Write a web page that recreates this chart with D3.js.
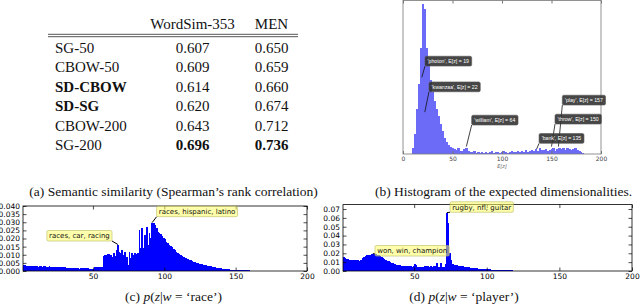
<!DOCTYPE html>
<html>
<head>
<meta charset="utf-8">
<script src="https://cdn.jsdelivr.net/npm/d3@7/dist/d3.min.js"></script>
<style>
  body { margin: 0; background: #fff; }
  svg { display: block; }
</style>
</head>
<body>
<div id="fig"></div>
<script>
// ---- (a) table ----
const methods = ['SG-50', 'CBOW-50', 'SD-CBOW', 'SD-SG', 'CBOW-200', 'SG-200'];
const boldMethods = ['SD-CBOW', 'SD-SG'];
const wordsimScores = [0.607, 0.609, 0.614, 0.620, 0.643, 0.696];
const menScores = [0.650, 0.659, 0.660, 0.674, 0.712, 0.736];
const tableHeaders = ['WordSim-353', 'MEN'];

// ---- (b) histogram of expected dimensionalities (bins of 2, starting at 9) ----
const dimBinStart = 9;
const dimBinWidth = 2;
const dimCounts = [
  60, 200, 450, 700, 1060, 1500, 1450, 1060, 900, 740,
  620, 530, 450, 380, 300, 230, 160, 120, 90, 70,
  60, 50, 40, 60, 30, 30, 50, 60, 30, 20,
  20, 30, 10, 20, 10, 20, 10, 20, 10, 20,
  30, 10, 20, 20, 10, 20, 30, 20, 10, 20,
  30, 20, 20, 30, 20, 30, 20, 40, 20, 30,
  40, 30, 50, 30, 60, 40, 40, 50, 30, 40,
  50, 60, 30, 50, 60, 50, 60, 40, 60, 50,
  40, 50, 60, 40, 30, 20, 10
];
const dimTicks = [0, 50, 100, 150, 200];
const dimNotes = [
  { word: 'photon', dim: 19, count: 770 },
  { word: 'kwanzaa', dim: 22, count: 420 },
  { word: 'william', dim: 64, count: 75 },
  { word: 'play', dim: 157, count: 75 },
  { word: 'throw', dim: 150, count: 75 },
  { word: 'bank', dim: 135, count: 50 }
];

// ---- (c) p(z | w = 'race'), z = 1.. ----
const raceProbs = [
  0.0035, 0.0034, 0.0033, 0.0032, 0.0031, 0.0030, 0.0030, 0.0029, 0.0028, 0.0029,
  0.0027, 0.0028, 0.0029, 0.0027, 0.0028, 0.0028, 0.0026, 0.0027, 0.0028, 0.0026,
  0.0027, 0.0026, 0.0025, 0.0025, 0.0024, 0.0024, 0.0023, 0.0023, 0.0022, 0.0022,
  0.0021, 0.0020, 0.0020, 0.0019, 0.0018, 0.0018, 0.0017, 0.0016, 0.0016, 0.0015,
  0.0016, 0.0019, 0.0020, 0.0020, 0.0019, 0.0018, 0.0015, 0.0014, 0.0014, 0.0015,
  0.0024, 0.0025, 0.0025, 0.0026, 0.0026, 0.0027, 0.0095, 0.0098, 0.0100, 0.0102,
  0.0104, 0.0098, 0.0085, 0.0112, 0.0092, 0.0131, 0.0163, 0.0115, 0.0109, 0.0129,
  0.0099, 0.0119, 0.0088, 0.0037, 0.0115, 0.0078, 0.0109, 0.0099, 0.0109, 0.0105,
  0.0109, 0.0252, 0.0140, 0.0263, 0.0140, 0.0222, 0.0273, 0.0160, 0.0232, 0.0201,
  0.0298, 0.0295, 0.0283, 0.0263, 0.0242, 0.0234, 0.0226, 0.0215, 0.0206, 0.0195,
  0.0180, 0.0170, 0.0160, 0.0152, 0.0145, 0.0136, 0.0129, 0.0120, 0.0112, 0.0105,
  0.0098, 0.0092, 0.0087, 0.0081, 0.0077, 0.0073, 0.0069, 0.0065, 0.0061, 0.0058,
  0.0055, 0.0052, 0.0049, 0.0046, 0.0043, 0.0041, 0.0039, 0.0036, 0.0034, 0.0032,
  0.0030, 0.0028, 0.0026, 0.0024, 0.0022, 0.0020, 0.0019, 0.0017, 0.0016, 0.0015,
  0.0014, 0.0013, 0.0012, 0.0011, 0.0010, 0.0009, 0.0009, 0.0008, 0.0007, 0.0007,
  0.0006, 0.0006, 0.0005, 0.0005, 0.0005, 0.0004, 0.0004, 0.0004, 0.0004, 0.0003,
  0.0003, 0.0003, 0.0003, 0.0002
];
const raceNotes = [
  { label: 'races, car, racing', z: 67 },
  { label: 'races, hispanic, latino', z: 91 }
];

// ---- (d) p(z | w = 'player'), z = 1.. ----
const playerProbs = [
  0.0160, 0.0150, 0.0140, 0.0130, 0.0128, 0.0126, 0.0124, 0.0125, 0.0123, 0.0122,
  0.0120, 0.0118, 0.0125, 0.0150, 0.0160, 0.0172, 0.0178, 0.0180, 0.0185, 0.0188,
  0.0195, 0.0192, 0.0190, 0.0186, 0.0178, 0.0168, 0.0158, 0.0148, 0.0138, 0.0128,
  0.0118, 0.0108, 0.0100, 0.0092, 0.0085, 0.0078, 0.0072, 0.0068, 0.0066, 0.0067,
  0.0062, 0.0058, 0.0060, 0.0061, 0.0057, 0.0055, 0.0052, 0.0050, 0.0060, 0.0078,
  0.0065, 0.0048, 0.0045, 0.0044, 0.0043, 0.0050, 0.0052, 0.0051, 0.0055, 0.0050,
  0.0052, 0.0049, 0.0053, 0.0051, 0.0095, 0.0050, 0.0048, 0.0093, 0.0045, 0.0042,
  0.0080, 0.0660, 0.0540, 0.0200, 0.0120, 0.0075, 0.0072, 0.0070, 0.0066, 0.0062,
  0.0058, 0.0055, 0.0052, 0.0049, 0.0046, 0.0043, 0.0040, 0.0038, 0.0036, 0.0034,
  0.0032, 0.0030, 0.0029, 0.0027, 0.0026, 0.0024, 0.0023, 0.0021, 0.0020, 0.0019,
  0.0018, 0.0017, 0.0016, 0.0015, 0.0014, 0.0013, 0.0012, 0.0011, 0.0010, 0.0010,
  0.0009, 0.0008, 0.0008, 0.0007, 0.0007, 0.0006, 0.0006, 0.0005, 0.0005, 0.0005,
  0.0004, 0.0004, 0.0003, 0.0003, 0.0003
];
const playerNotes = [
  { label: 'rugby, nfl, guitar', z: 72 },
  { label: 'won, win, champion', z: 21 }
];
const zTicks = [50, 100, 150, 200];

// ---- layout (pixels) ----
const W = 640, H = 305;
const serif = '"Liberation Serif", "Times New Roman", serif';
const sans = '"DejaVu Sans", sans-serif';

const svg = d3.select('#fig').append('svg')
  .attr('width', W).attr('height', H)
  .style('background', '#fff');

// ================= (a) table =================
const tbl = svg.append('g');
const colX = { label: 55, ws: 192.5, men: 271.5 };
const rowY = d3.scalePoint().domain(methods).range([53, 150]);

tbl.selectAll('text.head')
  .data(tableHeaders)
  .enter().append('text')
  .attr('x', (d, i) => i === 0 ? colX.ws : colX.men)
  .attr('y', 28.5)
  .attr('text-anchor', 'middle')
  .attr('font-family', serif).attr('font-size', 15)
  .attr('fill', '#111')
  .text(d => d);

[34.3, 36.7].forEach(y => {
  tbl.append('line')
    .attr('x1', 48).attr('x2', 298).attr('y1', y).attr('y2', y)
    .attr('stroke', '#444').attr('stroke-width', 0.9);
});

const bestWs = d3.max(wordsimScores), bestMen = d3.max(menScores);
methods.forEach((m, i) => {
  const y = rowY(m);
  tbl.append('text')
    .attr('x', colX.label).attr('y', y)
    .attr('font-family', serif).attr('font-size', 15).attr('fill', '#111')
    .attr('font-weight', boldMethods.includes(m) ? 'bold' : 'normal')
    .text(m);
  tbl.append('text')
    .attr('x', colX.ws).attr('y', y).attr('text-anchor', 'middle')
    .attr('font-family', serif).attr('font-size', 15).attr('fill', '#111')
    .attr('font-weight', wordsimScores[i] === bestWs ? 'bold' : 'normal')
    .text(wordsimScores[i].toFixed(3));
  tbl.append('text')
    .attr('x', colX.men).attr('y', y).attr('text-anchor', 'middle')
    .attr('font-family', serif).attr('font-size', 15).attr('fill', '#111')
    .attr('font-weight', menScores[i] === bestMen ? 'bold' : 'normal')
    .text(menScores[i].toFixed(3));
});

// captions
function caption(x, y, parts) {
  const t = svg.append('text')
    .attr('x', x).attr('y', y).attr('text-anchor', 'middle')
    .attr('font-family', serif).attr('font-size', 13.5).attr('fill', '#111');
  parts.forEach(p => {
    t.append('tspan').attr('font-style', p[1] ? 'italic' : 'normal').text(p[0]);
  });
}
caption(173.5, 196, [['(a) Semantic similarity (Spearman\u2019s rank correlation)']]);
caption(503.5, 196, [['(b) Histogram of the expected dimensionalities.']]);
caption(173.5, 300.5, [['(c) '], ['p', 1], ['('], ['z', 1], ['|'], ['w', 1], [' = \u2018race\u2019)']]);
caption(464, 301, [['(d) '], ['p', 1], ['('], ['z', 1], ['|'], ['w', 1], [' = \u2018player\u2019)']]);

// annotation helper: box placed relative to the tip, line to nearest box point
function annotate(g, tx, ty, label, off, style) {
  const line = g.append('line');
  const rect = g.append('rect');
  const t = g.append('text')
    .attr('font-family', style.font).attr('font-size', style.size)
    .attr('fill', style.color).text(label);
  const bb = t.node().getBBox();
  const w = bb.width + 2 * style.padX, h = style.h;
  const bx = off.side === 'left' ? tx + off.dx - w : tx + off.dx;
  const by = ty + off.dy - h;
  rect.attr('x', bx).attr('y', by).attr('width', w).attr('height', h)
    .attr('rx', style.rx)
    .attr('fill', style.fill).attr('fill-opacity', style.opacity)
    .attr('stroke', style.stroke).attr('stroke-width', 0.6);
  t.attr('x', bx + style.padX).attr('y', by + h / 2).attr('dy', '0.36em');
  const nx = Math.max(bx, Math.min(tx, bx + w));
  const ny = Math.max(by, Math.min(ty, by + h));
  line.attr('x1', tx).attr('y1', ty).attr('x2', nx).attr('y2', ny)
    .attr('stroke', style.lineColor).attr('stroke-width', style.lineWidth);
}

// ================= (b) histogram =================
const gb = svg.append('g');
const xDim = d3.scaleLinear().domain([0, 200]).range([403, 601]);
const yDim = d3.scaleLinear().domain([0, 1540]).range([154, 0.5]);

gb.selectAll('rect.bar')
  .data(dimCounts)
  .enter().append('rect')
  .attr('x', (d, i) => xDim(dimBinStart + i * dimBinWidth))
  .attr('width', (d, i) => xDim(dimBinStart + (i + 1) * dimBinWidth) - xDim(dimBinStart + i * dimBinWidth) + 0.3)
  .attr('y', d => yDim(d))
  .attr('height', d => yDim(0) - yDim(d))
  .attr('fill', '#6b6bf7')
  .attr('shape-rendering', 'crispEdges');

gb.append('rect')
  .attr('x', xDim(0)).attr('y', yDim.range()[1])
  .attr('width', xDim(200) - xDim(0)).attr('height', yDim(0) - yDim.range()[1])
  .attr('fill', 'none').attr('stroke', '#777').attr('stroke-width', 0.8);

const axB = gb.append('g').attr('transform', `translate(0,${yDim(0)})`)
  .call(d3.axisBottom(xDim).tickValues(dimTicks).tickSizeInner(-3).tickSizeOuter(0).tickPadding(3));
axB.select('.domain').remove();
axB.selectAll('line').attr('stroke', '#777');
axB.selectAll('text').attr('font-family', sans).attr('font-size', 6).attr('fill', '#444');
const axBt = gb.append('g').attr('transform', `translate(0,${yDim.range()[1]})`)
  .call(d3.axisTop(xDim).tickValues(dimTicks).tickSizeInner(-3).tickSizeOuter(0).tickFormat(''));
axBt.select('.domain').remove();
axBt.selectAll('line').attr('stroke', '#777');

gb.append('text')
  .attr('x', xDim(100)).attr('y', 168).attr('text-anchor', 'middle')
  .attr('font-family', sans).attr('font-size', 5).attr('fill', '#666')
  .attr('font-style', 'italic')
  .text('E[z]');

const dimNoteOffsets = [
  { dx: 3.2, dy: -11.2 }, { dx: 4.2, dy: -20.4 }, { dx: 5.3, dy: -21.5 },
  { dx: 3.9, dy: -41.5 }, { dx: 3.5, dy: -22.5 }, { dx: 2.4, dy: -5.7 }
];
const darkStyle = {
  font: '"Liberation Sans", Arial, sans-serif', size: 5.2, color: '#fff', padX: 2.6, h: 9.8,
  rx: 1.5, fill: '#2e2e2e', opacity: 0.88, stroke: '#555',
  lineColor: '#111', lineWidth: 0.8
};
dimNotes.forEach((n, i) => {
  annotate(gb, xDim(n.dim), yDim(n.count), `'${n.word}', E[z] = ${n.dim}`, dimNoteOffsets[i], darkStyle);
});

// ================= (c) / (d) distributions =================
const yellowStyle = {
  font: sans, size: 7, color: '#111', padX: 2.2, h: 10.5,
  rx: 1.5, fill: '#ffff66', opacity: 0.55, stroke: '#b8b860',
  lineColor: '#000', lineWidth: 1
};

function distPanel(probs, xRange, yTop, yMax, yFmt, yTickCount, notes, offsets) {
  const g = svg.append('g');
  const x = d3.scaleLinear().domain([1, 200]).range(xRange);
  const y = d3.scaleLinear().domain([0, yMax]).range([271, yTop]);

  g.selectAll('rect.bar')
    .data(probs)
    .enter().append('rect')
    .attr('x', (d, i) => x(i + 1))
    .attr('width', (d, i) => x(i + 2) - x(i + 1) + 0.35)
    .attr('y', d => y(d))
    .attr('height', d => y(0) - y(d))
    .attr('fill', '#0000ff')
    .attr('shape-rendering', 'crispEdges');

  const yTicks = y.ticks(yTickCount).filter(v => v <= yMax + 1e-9);
  const styleAxis = sel => {
    sel.select('.domain').remove();
    sel.selectAll('line').attr('stroke', '#000').attr('stroke-width', 0.7);
    sel.selectAll('text').attr('font-family', sans).attr('font-size', 7.5).attr('fill', '#000');
  };
  g.append('g').attr('transform', `translate(0,271)`)
    .call(d3.axisBottom(x).tickValues(zTicks).tickSizeInner(-3.5).tickSizeOuter(0).tickPadding(3))
    .call(styleAxis);
  g.append('g').attr('transform', `translate(0,${yTop})`)
    .call(d3.axisTop(x).tickValues(zTicks).tickSizeInner(-3.5).tickSizeOuter(0).tickFormat(''))
    .call(styleAxis);
  g.append('g').attr('transform', `translate(${xRange[0]},0)`)
    .call(d3.axisLeft(y).tickValues(yTicks).tickFormat(d3.format(yFmt)).tickSizeInner(-3.5).tickSizeOuter(0).tickPadding(3))
    .call(styleAxis);
  g.append('g').attr('transform', `translate(${xRange[1]},0)`)
    .call(d3.axisRight(y).tickValues(yTicks).tickFormat('').tickSizeInner(-3.5).tickSizeOuter(0))
    .call(styleAxis);

  g.append('rect')
    .attr('x', xRange[0]).attr('y', yTop)
    .attr('width', xRange[1] - xRange[0]).attr('height', 271 - yTop)
    .attr('fill', 'none').attr('stroke', '#000').attr('stroke-width', 0.8);

  notes.forEach((n, i) => {
    annotate(g, x(n.z + 0.5), y(probs[n.z - 1]), n.label, offsets[i], yellowStyle);
  });
}

distPanel(raceProbs, [23, 307], 206, 0.040, '.3f', 8, raceNotes,
  [{ dx: -5.9, dy: -3.5, side: 'left' }, { dx: 4.5, dy: -5.9 }]);
distPanel(playerProbs, [343, 632], 204.6, 0.075, '.2f', 7, playerNotes,
  [{ dx: 3.2, dy: -0.3 }, { dx: 2.2, dy: 2.3 }]);
</script>
</body>
</html>
